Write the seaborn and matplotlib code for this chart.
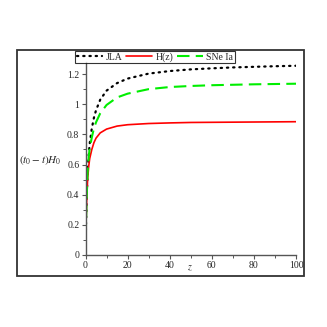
import matplotlib
matplotlib.use("Agg")
import matplotlib.pyplot as plt
import seaborn as sns
import pandas as pd
from matplotlib.patches import Rectangle

z = [0, 0.25, 0.5, 1, 1.5, 2, 3, 4, 5, 7, 10, 15, 20, 30, 40, 50, 60, 70, 80, 90, 100]
jla = [0, 0.21, 0.36, 0.55, 0.66, 0.74, 0.84, 0.91, 0.96, 1.03, 1.09, 1.14, 1.17, 1.203,
       1.22, 1.231, 1.238, 1.244, 1.248, 1.252, 1.255]
hz = [0, 0.20, 0.34, 0.50, 0.585, 0.64, 0.70, 0.745, 0.775, 0.81, 0.835, 0.855, 0.864, 0.872,
      0.876, 0.879, 0.880, 0.881, 0.882, 0.883, 0.884]
sne = [0, 0.21, 0.36, 0.55, 0.645, 0.71, 0.78, 0.84, 0.88, 0.94, 0.995, 1.045, 1.07, 1.10,
       1.114, 1.121, 1.126, 1.129, 1.132, 1.134, 1.136]
labels = ["JLA", "H(z)", "SNe Ia"]
yticks = [0, 0.2, 0.4, 0.6, 0.8, 1, 1.2]
ytick_labels = ["0", "0.2", "0.4", "0.6", "0.8", "1", "1.2"]
xticks = [0, 20, 40, 60, 80, 100]

sns.set_style("white")
plt.rcParams["font.family"] = ["Liberation Serif", "DejaVu Serif"]
plt.rcParams["mathtext.fontset"] = "stix"

W = 327
fig = plt.figure(figsize=(3.27, 3.27), dpi=100)
ax = fig.add_axes([85.5 / W, 1 - 255 / W, (296 - 85.5) / W, (255 - 62) / W])

df = pd.DataFrame({"z": z, "JLA": jla, "H(z)": hz, "SNe Ia": sne})
sns.lineplot(data=df, x="z", y="JLA", ax=ax, color="black", lw=1.6,
             linestyle=(0, (0.6, 2.2)), label=labels[0], legend=False)
sns.lineplot(data=df, x="z", y="H(z)", ax=ax, color="#ff0000", lw=1.2, label=labels[1], legend=False)
sns.lineplot(data=df, x="z", y="SNe Ia", ax=ax, color="#00ee00", lw=1.5,
             linestyle=(0, (6, 3)), label=labels[2], legend=False)
lines = ax.get_lines()
lines[0].set_dash_capstyle("round")

ax.set_xlim(0, 100)
ax.set_ylim(0, 1.28)
ax.set_xticks(xticks)
ax.set_xticks([10, 30, 50, 70, 90], minor=True)
ax.set_yticks(yticks)
ax.set_yticklabels(ytick_labels)
ax.set_yticks([0.1, 0.3, 0.5, 0.7, 0.9, 1.1], minor=True)
for s in ["top", "right"]:
    ax.spines[s].set_visible(False)
for s in ["left", "bottom"]:
    ax.spines[s].set_color("#555555")
    ax.spines[s].set_linewidth(1.0)
ax.tick_params(which="major", direction="out", length=3, width=0.8, color="#555555",
               labelsize=7, pad=1.5, bottom=True, left=True)
ax.tick_params(which="minor", direction="out", length=2, width=0.7, color="#555555",
               bottom=True, left=True)
ax.set_xlabel("")
ax.set_ylabel("")

fig.text(40 / W, 1 - 160 / W, r"$(t_0-t)H_0$", ha="center", va="center", fontsize=8)
fig.text(190 / W, 1 - 268 / W, r"$z$", ha="center", va="center", fontsize=7)

handles = ax.get_lines()[:3]
leg = fig.legend(handles, labels, loc="center", bbox_to_anchor=(155 / W, 1 - 57 / W),
                 ncol=3, fontsize=7, frameon=True, fancybox=False, handlelength=2.6,
                 handletextpad=0.4, columnspacing=0.4, borderpad=0.15, borderaxespad=0)
leg.get_frame().set_edgecolor("black")
leg.get_frame().set_linewidth(0.8)

fig.patches.append(Rectangle((17 / W, 1 - 276 / W), 287 / W, 226 / W, transform=fig.transFigure,
                             fill=False, edgecolor="#333333", lw=1.3))

fig.savefig("out.png", dpi=100)
